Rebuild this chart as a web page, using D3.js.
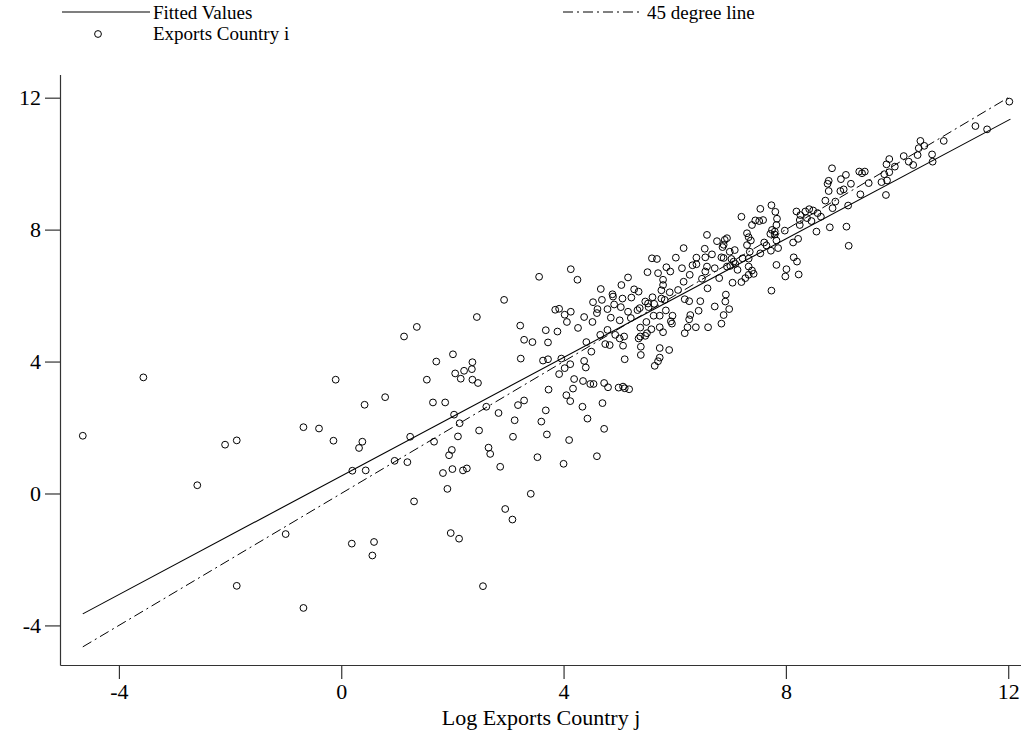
<!DOCTYPE html>
<html>
<head>
<meta charset="utf-8">
<script src="https://cdn.jsdelivr.net/npm/d3@7"></script>
<style>
    body { margin: 0; background: #fff; }
    svg text { font-family: "Liberation Serif", "Times New Roman", serif; fill: #000; }
</style>
</head>
<body>
<svg id="chart" width="1021" height="731"></svg>
<script>
// Log exports of country j (x) and country i (y)
const logExportsJ = [
    -3.56, -4.65, -2.59, -2.09, -1.88, -0.68, -0.40, -0.10, -0.14, -1.00, -1.88, -0.68,
    2.44, 1.36, 1.13, 2.01, 1.71, 2.36, 2.21, 2.35, 2.05, 2.15, 2.36, 2.46, 1.54, 0.79, 0.42, 1.65, 1.87, 2.03,
    2.61, 2.13, 1.24, 2.48, 2.10, 0.38, 0.32, 1.67, 1.99, 1.94, 2.65, 2.68, 0.96, 1.19, 0.20, 0.44, 1.83, 2.00,
    2.19, 2.26, 1.91, 1.31, 0.19, 0.59, 0.56, 1.97, 2.12, 2.55,
    4.13, 4.25, 3.56, 2.93, 3.85, 3.92, 4.13, 4.02, 4.06, 4.37, 4.26, 3.22, 3.68, 3.89, 3.29, 3.44, 3.72, 4.41,
    3.23, 3.63, 3.72, 3.96, 4.37, 4.40, 4.12, 4.02, 3.92, 4.19, 4.35, 4.48, 3.73, 4.17, 4.05, 4.12, 3.29, 3.18,
    4.34, 2.83, 3.68, 4.43, 3.12, 3.60, 3.70, 3.09, 4.10, 3.53, 4.00, 4.60, 2.86,
    4.54, 4.73, 4.80, 4.70, 4.73, 4.67, 4.53, 4.69, 4.50,
    3.41, 2.95, 3.08,
    6.16, 5.59, 5.68, 6.02, 6.39, 6.55, 5.85, 5.92, 5.51, 5.70, 6.13, 6.32, 6.39, 6.55, 5.16, 5.79, 6.27, 6.49,
    6.16, 5.79, 5.04, 5.27, 5.35, 5.76, 5.91, 6.06, 6.59, 4.88, 4.89, 5.06, 5.22, 5.60, 5.76, 6.18, 5.47, 5.52,
    5.63, 5.82, 6.26, 6.46, 4.91, 5.03, 5.37, 5.53, 4.79, 4.61, 4.60, 5.16, 5.33, 5.84, 5.62, 5.73, 5.96, 6.28,
    6.43, 4.85, 5.01, 4.52, 5.21, 5.49, 5.93, 6.26, 5.95, 5.38, 5.58, 5.73, 6.23, 6.38, 6.60, 4.79, 5.79, 6.18,
    5.50, 4.66, 4.93, 5.09, 5.38, 5.47, 5.01, 5.35, 4.75, 4.83, 5.07, 5.39, 5.73, 5.90, 5.39, 5.10, 5.73, 5.70,
    5.64, 4.99, 5.07, 5.10, 5.18,
    6.58, 7.74, 7.54, 7.20, 7.81, 7.45, 7.52, 7.59, 7.84, 7.39, 7.83, 8.19, 8.26, 8.35, 8.42, 8.49, 8.57, 8.25,
    8.38, 8.46, 8.25, 7.75, 7.80, 7.98, 7.72, 7.80, 7.30, 7.33, 7.37, 6.94, 6.90, 6.76, 6.88, 6.86, 7.08, 6.99,
    6.54, 6.67, 7.30, 7.61, 7.65, 7.83, 8.13, 8.22, 7.35, 7.54, 7.73, 7.86, 6.84, 6.88, 7.02, 7.22, 7.33, 8.14,
    8.20, 7.83, 7.06, 6.58, 6.72, 6.94, 7.00, 7.09, 7.13, 7.33, 7.39, 7.33, 7.42, 8.01, 7.99, 8.23, 6.80, 7.04,
    7.20, 7.27, 7.74, 6.92, 6.91, 6.72, 6.98, 6.88, 6.84,
    12.02, 11.41, 11.62, 10.84, 10.42, 10.39, 10.49, 10.37, 10.63, 10.64, 10.12, 10.21, 10.29, 9.86, 9.81, 9.96,
    9.86, 9.77, 9.72, 9.82, 9.80, 9.32, 9.37, 9.42, 9.49, 9.34, 8.83, 9.08, 8.99, 8.77, 8.75, 9.17, 8.77, 8.98,
    9.04, 8.71, 8.89, 8.84, 9.12, 8.63, 8.79, 9.09, 8.55, 9.13
];

const logExportsI = [
    3.52, 1.75, 0.25, 1.48, 1.61, 2.01, 1.97, 3.45, 1.60, -1.23, -2.80, -3.47,
    5.35, 5.05, 4.76, 4.22, 4.00, 3.98, 3.72, 3.77, 3.64, 3.48, 3.45, 3.35, 3.45, 2.92, 2.69, 2.76, 2.76, 2.39,
    2.63, 2.13, 1.72, 1.91, 1.73, 1.57, 1.38, 1.57, 1.32, 1.16, 1.39, 1.20, 0.99, 0.95, 0.69, 0.70, 0.62, 0.74,
    0.70, 0.76, 0.14, -0.24, -1.52, -1.47, -1.88, -1.20, -1.37, -2.81,
    6.80, 6.48, 6.57, 5.87, 5.57, 5.60, 5.51, 5.42, 5.20, 5.35, 5.02, 5.09, 4.95, 4.91, 4.66, 4.59, 4.58, 4.59,
    4.09, 4.03, 4.07, 4.09, 4.02, 3.82, 3.92, 3.80, 3.62, 3.47, 3.41, 3.32, 3.15, 3.18, 2.98, 2.80, 2.82, 2.68,
    2.63, 2.44, 2.52, 2.27, 2.22, 2.18, 1.79, 1.72, 1.62, 1.10, 0.90, 1.13, 0.81,
    3.32, 3.35, 3.22, 2.74, 1.96, 6.20, 5.80, 5.87, 4.30,
    -0.01, -0.47, -0.79,
    7.44, 7.13, 7.11, 7.15, 7.15, 7.16, 6.86, 6.73, 6.71, 6.68, 6.83, 6.92, 6.95, 6.73, 6.55, 6.48, 6.63, 6.51,
    6.42, 6.32, 6.32, 6.19, 6.12, 6.16, 6.10, 6.17, 6.22, 6.04, 5.97, 5.91, 5.94, 5.95, 5.91, 5.89, 5.82, 5.76,
    5.75, 5.87, 5.83, 5.83, 5.73, 5.65, 5.62, 5.65, 5.59, 5.59, 5.47, 5.51, 5.56, 5.55, 5.39, 5.39, 5.39, 5.41,
    5.54, 5.33, 5.25, 5.20, 5.32, 5.20, 5.22, 5.28, 5.15, 5.03, 4.98, 5.04, 5.04, 5.04, 5.04, 4.96, 4.89, 4.86,
    4.86, 4.81, 4.81, 4.76, 4.76, 4.78, 4.70, 4.70, 4.53, 4.50, 4.48, 4.45, 4.41, 4.35, 4.20, 4.07, 4.12, 4.01,
    3.87, 3.21, 3.24, 3.19, 3.16,
    7.84, 8.74, 8.63, 8.39, 8.54, 8.28, 8.26, 8.29, 8.33, 8.14, 8.14, 8.55, 8.44, 8.55, 8.62, 8.58, 8.50, 8.29,
    8.35, 8.26, 8.14, 7.99, 7.94, 7.97, 7.87, 7.85, 7.89, 7.77, 7.67, 7.74, 7.69, 7.65, 7.54, 7.47, 7.38, 7.33,
    7.42, 7.25, 7.53, 7.61, 7.52, 7.67, 7.61, 7.72, 7.33, 7.28, 7.36, 7.44, 7.16, 7.14, 7.11, 7.13, 7.12, 7.16,
    7.03, 6.93, 7.03, 6.88, 6.83, 6.88, 6.90, 6.96, 6.78, 6.88, 6.76, 6.63, 6.66, 6.80, 6.58, 6.64, 6.53, 6.39,
    6.41, 6.53, 6.15, 6.03, 5.82, 5.67, 5.59, 5.41, 5.15,
    11.88, 11.14, 11.04, 10.69, 10.69, 10.47, 10.54, 10.26, 10.28, 10.06, 10.23, 10.06, 9.96, 10.14, 9.98, 9.91,
    9.74, 9.68, 9.44, 9.49, 9.05, 9.76, 9.71, 9.76, 9.41, 9.07, 9.86, 9.66, 9.53, 9.48, 9.39, 9.39, 9.17, 9.17,
    9.22, 8.88, 8.85, 8.65, 8.73, 8.39, 8.07, 8.09, 7.94, 7.51
];

// Fitted values line, ends
const fittedX = [-4.65, 12.04];
const fittedY = [-3.65, 11.35];

const xTicks = [-4, 0, 4, 8, 12];
const yTicks = [-4, 0, 4, 8, 12];

const svg = d3.select("#chart");

const x = d3.scaleLinear().domain([-5.06, 12.23]).range([60, 1021]);
const y = d3.scaleLinear().domain([-5.2, 12.7]).range([665, 74.6]);

// plain hyphen for negatives, like the original
const tickFmt = d => String(d);

// axes
const xAxis = svg.append("g")
    .attr("transform", `translate(0,${y(-5.2)})`)
    .call(d3.axisBottom(x).tickValues(xTicks).tickFormat(tickFmt)
        .tickSize(14).tickSizeOuter(0).tickPadding(4));

const yAxis = svg.append("g")
    .attr("transform", `translate(${x(-5.06)},0)`)
    .call(d3.axisLeft(y).tickValues(yTicks).tickFormat(tickFmt)
        .tickSize(15).tickSizeOuter(0).tickPadding(4));

[xAxis, yAxis].forEach(g => {
    g.selectAll("path, line").attr("stroke", "#333").attr("stroke-width", 1.2);
    g.selectAll("text").attr("font-family", "Liberation Serif").attr("font-size", 22).attr("fill", "#000");
});

svg.append("text")
    .attr("x", 541)
    .attr("y", 725)
    .attr("text-anchor", "middle")
    .attr("font-size", 22)
    .text("Log Exports Country j");

// 45 degree line over the range of the data
const xExtent = d3.extent(logExportsJ);
const line = d3.line().x(d => x(d[0])).y(d => y(d[1]));

svg.append("path")
    .attr("d", line(xExtent.map(v => [v, v])))
    .attr("fill", "none")
    .attr("stroke", "#000")
    .attr("stroke-width", 1)
    .attr("stroke-dasharray", "10,4,2,4");

svg.append("path")
    .attr("d", line(fittedX.map((v, i) => [v, fittedY[i]])))
    .attr("fill", "none")
    .attr("stroke", "#000")
    .attr("stroke-width", 1.1);

// scatter
svg.append("g")
    .selectAll("circle")
    .data(logExportsJ.map((v, i) => [v, logExportsI[i]]))
    .join("circle")
    .attr("cx", d => x(d[0]))
    .attr("cy", d => y(d[1]))
    .attr("r", 3.4)
    .attr("fill", "none")
    .attr("stroke", "#000")
    .attr("stroke-width", 1);

// legend
const legend = svg.append("g").attr("font-size", 19);

legend.append("line")
    .attr("x1", 62).attr("x2", 150).attr("y1", 12).attr("y2", 12)
    .attr("stroke", "#000").attr("stroke-width", 1.1);
legend.append("text").attr("x", 153).attr("y", 19).text("Fitted Values");

legend.append("circle")
    .attr("cx", 98).attr("cy", 34).attr("r", 3.4)
    .attr("fill", "none").attr("stroke", "#000");
legend.append("text").attr("x", 153).attr("y", 40).text("Exports Country i");

legend.append("line")
    .attr("x1", 563).attr("x2", 643).attr("y1", 12).attr("y2", 12)
    .attr("stroke", "#000").attr("stroke-width", 1)
    .attr("stroke-dasharray", "10,4,2,4");
legend.append("text").attr("x", 647).attr("y", 19).text("45 degree line");
</script>
</body>
</html>
